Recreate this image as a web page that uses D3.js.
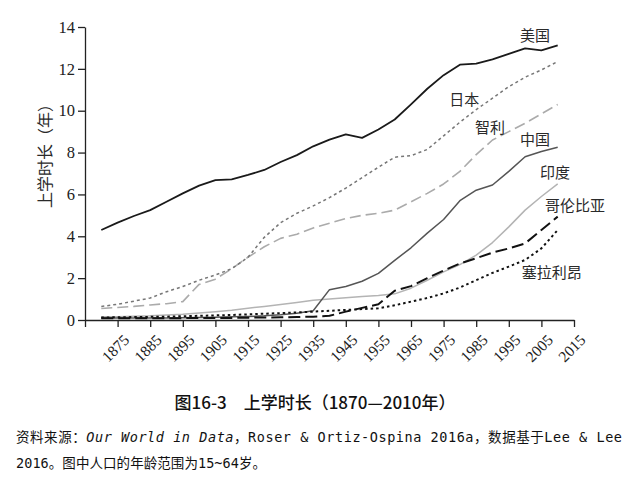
<!DOCTYPE html>
<html>
<head>
<meta charset="utf-8">
<script src="https://cdn.jsdelivr.net/npm/d3@7"></script>
<style>
  body { margin: 0; background: #fff; }
  .axis path, .axis line { stroke: #222; stroke-width: 1.3; }
  .axis text { font-family: "Liberation Serif", "DejaVu Serif", serif; fill: #222; }
</style>
</head>
<body>
<div id="chart_area"></div>
<script>

// years of the series (every 5 years)
var years = [1870, 1875, 1880, 1885, 1890, 1895, 1900, 1905, 1910, 1915, 1920, 1925, 1930, 1935, 1940,
             1945, 1950, 1955, 1960, 1965, 1970, 1975, 1980, 1985, 1990, 1995, 2000, 2005, 2010];

var usa      = [4.3, 4.65, 4.97, 5.25, 5.65, 6.05, 6.42, 6.68, 6.72, 6.93, 7.17, 7.55, 7.88, 8.3, 8.62,
                8.87, 8.7, 9.1, 9.58, 10.3, 11.05, 11.7, 12.2, 12.25, 12.45, 12.72, 12.98, 12.88, 13.12];
var japan    = [0.65, 0.75, 0.9, 1.05, 1.35, 1.6, 1.9, 2.15, 2.45, 3.0, 3.95, 4.65, 5.1, 5.45, 5.85,
                6.3, 6.8, 7.3, 7.78, 7.85, 8.15, 8.8, 9.45, 10.05, 10.6, 11.15, 11.6, 11.95, 12.35];
var chile    = [0.55, 0.6, 0.65, 0.72, 0.78, 0.88, 1.7, 1.95, 2.45, 3.0, 3.5, 3.9, 4.1, 4.4, 4.62,
                4.85, 5.0, 5.1, 5.25, 5.65, 6.05, 6.5, 7.1, 7.9, 8.6, 9.0, 9.4, 9.85, 10.3];
var china    = [0.1, 0.1, 0.1, 0.1, 0.1, 0.11, 0.12, 0.13, 0.15, 0.17, 0.2, 0.25, 0.32, 0.44, 1.45,
                1.6, 1.85, 2.23, 2.85, 3.45, 4.15, 4.8, 5.7, 6.2, 6.45, 7.1, 7.8, 8.05, 8.25];
var india    = [0.15, 0.16, 0.18, 0.2, 0.24, 0.28, 0.34, 0.4, 0.47, 0.56, 0.65, 0.74, 0.84, 0.94, 1.0,
                1.06, 1.12, 1.17, 1.25, 1.52, 1.9, 2.3, 2.65, 3.1, 3.7, 4.45, 5.25, 5.9, 6.5];
var colombia = [0.08, 0.08, 0.08, 0.08, 0.08, 0.09, 0.09, 0.1, 0.1, 0.11, 0.12, 0.13, 0.14, 0.16, 0.2,
                0.4, 0.58, 0.75, 1.4, 1.62, 2.0, 2.36, 2.7, 2.95, 3.22, 3.42, 3.66, 4.3, 4.94];
var sierra   = [0.12, 0.13, 0.14, 0.15, 0.16, 0.18, 0.2, 0.22, 0.24, 0.27, 0.3, 0.33, 0.36, 0.4, 0.44,
                0.48, 0.52, 0.56, 0.7, 0.88, 1.05, 1.27, 1.55, 1.9, 2.25, 2.55, 2.87, 3.42, 4.3];

var countries = ["美国", "日本", "智利", "中国", "印度", "哥伦比亚", "塞拉利昂"];
var seriesValues = [usa, japan, chile, china, india, colombia, sierra];

// tick labels
var xTicks = [1875, 1885, 1895, 1905, 1915, 1925, 1935, 1945, 1955, 1965, 1975, 1985, 1995, 2005, 2015];
var yTicks = [0, 2, 4, 6, 8, 10, 12, 14];

var titleText = "图16-3\u2002\u2002上学时长（1870—2010年）";
var yLabel = "上学时长（年）";

// line styles, same order as countries
var styles = [
  {stroke: "#1a1a1a", width: 1.8, dash: null},
  {stroke: "#777777", width: 1.5, dash: "3,3"},
  {stroke: "#ababab", width: 1.6, dash: "11,5"},
  {stroke: "#555555", width: 1.5, dash: null},
  {stroke: "#b4b4b4", width: 1.5, dash: null},
  {stroke: "#111111", width: 2.0, dash: "12,5"},
  {stroke: "#111111", width: 2.0, dash: "2.5,3"}
];

// label anchors in data units (year, value), left aligned
var labelPos = [[1998.4, 13.57], [1976.7, 10.51], [1984.6, 9.17], [1998.4, 8.6], [2004.6, 7.02], [2006.1, 5.45], [1999, 2.25]];

var frame_width = 638, frame_height = 484;
var margin = {top: 27, left: 85, right: 64, bottom: 164};

var frame = d3.select("#chart_area").append("svg")
  .attr("width", frame_width)
  .attr("height", frame_height);

var xScale = d3.scaleLinear().domain([1865, 2015]).range([margin.left, frame_width - margin.right]);
var yScale = d3.scaleLinear().domain([0, 14]).range([frame_height - margin.bottom, margin.top]);

// y axis
frame.append("g")
  .attr("class", "y axis")
  .attr("transform", "translate(" + margin.left + ",0)")
  .call(d3.axisLeft(yScale).tickValues(yTicks).tickSize(7).tickPadding(3).tickSizeOuter(0))
  .selectAll("text").style("font-size", "16.5px");

// x axis, an extra unlabelled tick at the origin
var xAxis = frame.append("g")
  .attr("class", "x axis")
  .attr("transform", "translate(0," + yScale(0) + ")")
  .call(d3.axisBottom(xScale).tickValues([1865].concat(xTicks)).tickSize(7).tickSizeOuter(0)
    .tickFormat(function (d) { return d == 1865 ? "" : d; }));

xAxis.selectAll("text")
  .style("font-size", "15.5px")
  .attr("text-anchor", "end")
  .attr("dx", 0)
  .attr("dy", 0)
  .attr("transform", "translate(5,14) rotate(-45)");

// the lines
var line = d3.line()
  .x(function (d, i) { return xScale(years[i]); })
  .y(function (d) { return yScale(d); });

var data_canvas = frame.append("g").attr("class", "data_canvas");

// draw light ones first so the dark ones sit on top
var order = [4, 2, 1, 3, 0, 5, 6];
order.forEach(function (k) {
  data_canvas.append("path")
    .datum(seriesValues[k])
    .attr("fill", "none")
    .attr("stroke", styles[k].stroke)
    .attr("stroke-width", styles[k].width)
    .attr("stroke-dasharray", styles[k].dash)
    .attr("stroke-linejoin", "round")
    .attr("d", line);
});

// country labels
frame.selectAll(".clabel")
  .data(countries)
  .enter().append("text")
  .attr("class", "clabel")
  .attr("x", function (d, i) { return xScale(labelPos[i][0]); })
  .attr("y", function (d, i) { return yScale(labelPos[i][1]); })
  .attr("dy", "0.35em")
  .style("font-family", "'Noto Sans CJK SC', sans-serif")
  .style("font-size", "15px")
  .style("fill", "#2a2a2a")
  .text(function (d) { return d; });

// y axis title
frame.append("text")
  .attr("transform", "translate(45,152) rotate(-90)")
  .attr("text-anchor", "middle")
  .attr("dy", "0.35em")
  .style("font-family", "'Noto Sans CJK SC', sans-serif")
  .style("font-size", "16px")
  .style("fill", "#2a2a2a")
  .text(yLabel);

// figure caption
frame.append("text")
  .attr("x", 315)
  .attr("y", 409)
  .attr("text-anchor", "middle")
  .style("font-family", "'Noto Sans CJK SC', sans-serif")
  .style("font-size", "17px")
  .style("font-weight", "500")
  .style("fill", "#111")
  .text(titleText);

// source note
var note = frame.append("g")
  .style("font-family", "'DejaVu Sans Mono', 'Noto Sans CJK SC', monospace")
  .style("font-size", "13.5px")
  .style("fill", "#111");

var l1 = note.append("text").attr("x", 16).attr("y", 442)
  .attr("textLength", 606).attr("lengthAdjust", "spacing");
l1.append("tspan").text("资料来源：");
l1.append("tspan").style("font-style", "italic").text("Our World in Data");
l1.append("tspan").text("，Roser & Ortiz-Ospina 2016a，数据基于Lee & Lee");

note.append("text").attr("x", 16).attr("y", 468)
  .attr("textLength", 250).attr("lengthAdjust", "spacing")
  .text("2016。图中人口的年龄范围为15~64岁。");

</script>
</body>
</html>
